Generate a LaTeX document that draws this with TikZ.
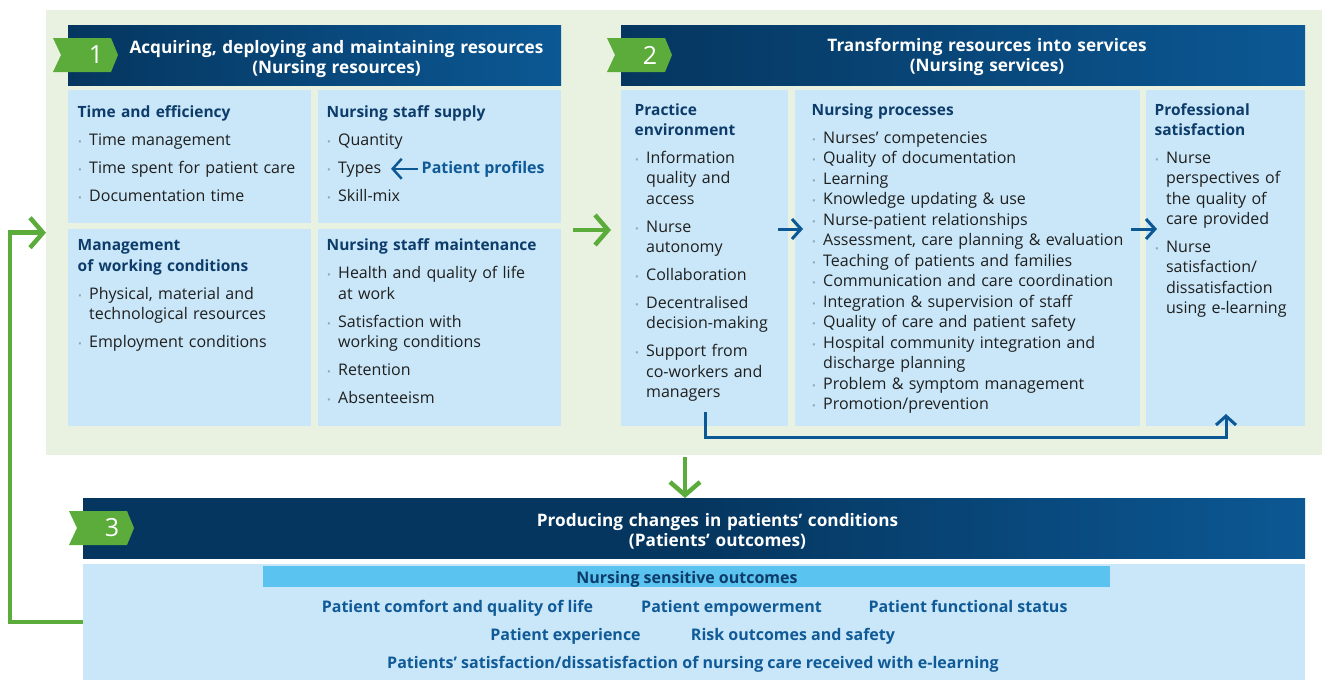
\documentclass[tikz,border=0pt]{standalone}
\usepackage{fontspec}
\setmainfont{Open Sans}
\usetikzlibrary{arrows.meta}

\definecolor{navy}{HTML}{05365F}
\definecolor{seablue}{HTML}{0C5894}
\definecolor{inkblue}{HTML}{0D3C6B}
\definecolor{linkblue}{HTML}{0F5A97}
\definecolor{paleblue}{HTML}{C9E7F8}
\definecolor{skyblue}{HTML}{5BC3EF}
\definecolor{mint}{HTML}{E9F2E1}
\definecolor{leaf}{HTML}{5BAC3A}
\definecolor{dotgray}{HTML}{8FA7BC}
\definecolor{bodyink}{HTML}{1F1F1F}

\newcommand\bi{\makebox[11.5pt][l]{\hspace{0.5pt}\textcolor{dotgray}{\fontsize{10}{10}\selectfont\textbullet}}}
\newcommand\bj{\hspace*{11.5pt}}
\newcommand\tstrut{\rule{0pt}{12.5pt}}
\newcommand\hstrut{\rule{0pt}{13.5pt}}
\newcommand\ttl[1]{{\color{inkblue}\bfseries\fontsize{15.5}{20.3}\selectfont #1}}

\tikzset{
    panel/.style = {fill=paleblue, inner sep=0pt, anchor=north west},
    headbar/.style = {inner sep=0pt, anchor=north west, left color=navy, right color=seablue},
    headtext/.style = {anchor=north, inner sep=0pt, align=center, text=white,
        font=\fontsize{17.2}{19.8}\selectfont\bfseries},
    blk/.style = {anchor=north west, inner sep=0pt, align=left, text=bodyink,
        font=\fontsize{16}{20.3}\selectfont},
    outcome/.style = {anchor=base, inner sep=0pt, text=linkblue,
        font=\fontsize{16}{18}\selectfont\bfseries},
    garrow/.style = {draw=leaf, line width=4.5pt, -{Straight Barb[length=13pt,width=30pt]}},
    barrow/.style = {draw=seablue, line width=3pt, -{Straight Barb[length=9pt,width=20pt]}},
    pics/badge/.style = {
        code = {
        \fill[leaf] (0,0) -- (58,0) -- (65,17) -- (58,34) -- (0,34) -- (8,17) -- cycle;
        \node[text=white, font=\fontsize{25}{25}\selectfont, inner sep=0pt] (-num) at (43,17) {#1};
        }
    }
}

\begin{document}
\begin{tikzpicture}[x=1pt,y=-1pt]
    \useasboundingbox (0,0) rectangle (1322,680);

    \node[fill=mint, inner sep=0pt, anchor=north west, minimum width=1276pt, minimum height=445pt] (bg) at (46,10) {};

    % headers
    \node[headbar, minimum width=493pt, minimum height=60pt] (h1) at (68,25) {};
    \node[headbar, minimum width=684pt, minimum height=60pt] (h2) at (621,25) {};
    \node[headbar, middle color=navy, minimum width=1222pt, minimum height=60pt] (h3) at (83,498) {};

    \node[headtext, text width=480pt] (h1t) at (336.5,39.8) {\hstrut Acquiring, deploying and maintaining resources\\(Nursing resources)};
    \node[headtext, text width=480pt] (h2t) at (987,38.2) {\hstrut Transforming resources into services\\(Nursing services)};
    \node[headtext, text width=600pt] (h3t) at (717.5,512.5) {\hstrut Producing changes in patients’ conditions\\(Patients’ outcomes)};

    \pic (b1) at (53,38) {badge=1};
    \pic (b2) at (607,38) {badge=2};
    \pic (b3) at (69,511) {badge=3};

    % nursing resources
    \node[panel, minimum width=243pt, minimum height=133pt] (te) at (68,90) {};
    \node[panel, minimum width=243pt, minimum height=133pt] (ss) at (318,90) {};
    \node[panel, minimum width=243pt, minimum height=197pt] (wc) at (68,229) {};
    \node[panel, minimum width=243pt, minimum height=197pt] (sm) at (318,229) {};

    \node[blk, text width=230pt] (tet) at (77.5,104.8) {\tstrut\ttl{Time and efficiency}\\[7.7pt]
        \bi Time management\\[7.7pt]
        \bi Time spent for patient care\\[7.7pt]
        \bi Documentation time};
    \node[blk, text width=230pt] (sst) at (326.5,104.8) {\tstrut\ttl{Nursing staff supply}\\[7.7pt]
        \bi Quantity\\[7.7pt]
        \bi Types\\[7.7pt]
        \bi Skill-mix};
    \node[outcome, anchor=base west] (pp) at (421.5,173) {Patient profiles};
    \coordinate (ty) at (391,168);

    \node[blk, text width=230pt] (wct) at (77.5,238.2) {\tstrut\ttl{Management}\\\ttl{of working conditions}\\[7.7pt]
        \bi Physical, material and\\\bj technological resources\\[7.7pt]
        \bi Employment conditions};
    \node[blk, text width=230pt] (smt) at (326.5,238.2) {\tstrut\ttl{Nursing staff maintenance}\\[7.7pt]
        \bi Health and quality of life\\\bj at work\\[7.7pt]
        \bi Satisfaction with\\\bj working conditions\\[7.7pt]
        \bi Retention\\[7.7pt]
        \bi Absenteeism};

    % nursing services
    \node[panel, minimum width=167pt, minimum height=336pt] (pe) at (621,90) {};
    \node[panel, minimum width=345pt, minimum height=336pt] (np) at (795,90) {};
    \node[panel, minimum width=159pt, minimum height=336pt] (ps) at (1146,90) {};

    \node[blk, text width=160pt] (pet) at (634.5,102.5) {\tstrut\ttl{Practice}\\\ttl{environment}\\[7.7pt]
        \bi Information\\\bj quality and\\\bj access\\[7.7pt]
        \bi Nurse\\\bj autonomy\\[7.7pt]
        \bi Collaboration\\[7.7pt]
        \bi Decentralised\\\bj decision-making\\[7.7pt]
        \bi Support from\\\bj co-workers and\\\bj managers};
    \node[blk, text width=330pt, font=\fontsize{16}{20.5}\selectfont] (npt) at (811.5,102.5) {\tstrut\ttl{Nursing processes}\\[7.7pt]
        \bi Nurses’ competencies\\
        \bi Quality of documentation\\
        \bi Learning\\
        \bi Knowledge updating \& use\\
        \bi Nurse-patient relationships\\
        \bi Assessment, care planning \& evaluation\\
        \bi Teaching of patients and families\\
        \bi Communication and care coordination\\
        \bi Integration \& supervision of staff\\
        \bi Quality of care and patient safety\\
        \bi Hospital community integration and\\\bj discharge planning\\
        \bi Problem \& symptom management\\
        \bi Promotion/prevention};
    \node[blk, text width=150pt] (pst) at (1154.4,102.5) {\tstrut\ttl{Professional}\\\ttl{satisfaction}\\[7.7pt]
        \bi Nurse\\\bj perspectives of\\\bj the quality of\\\bj care provided\\[7.7pt]
        \bi Nurse\\\bj satisfaction/\\\bj dissatisfaction\\\bj using e-learning};

    % patients' outcomes
    \node[panel, minimum width=1222pt, minimum height=116pt] (lo) at (83,564) {};
    \node[fill=skyblue, inner sep=0pt, anchor=north west, minimum width=847pt, minimum height=21pt] (nsbar) at (263,566) {};
    \node[outcome, text=inkblue] (nso) at (687,583) {Nursing sensitive outcomes};
    \node[outcome] (o1) at (457.5,612) {Patient comfort and quality of life};
    \node[outcome] (o2) at (731.5,612) {Patient empowerment};
    \node[outcome] (o3) at (968,612) {Patient functional status};
    \node[outcome] (o4) at (565.5,640) {Patient experience};
    \node[outcome] (o5) at (793,640) {Risk outcomes and safety};
    \node[outcome] (o6) at (693,668.5) {Patients’ satisfaction/dissatisfaction of nursing care received with e-learning};

    % arrows
    \coordinate (g1s) at (573,230);
    \coordinate (g1e) at (611,230);
    \coordinate (dn) at (685,457);
    \coordinate (p1s) at (778,229);
    \coordinate (p1e) at (803,229);
    \coordinate (p2s) at (1131,229);
    \coordinate (p2e) at (1157,229);
    \coordinate (brs) at (705,412);
    \coordinate (bre) at (1226,414);

    \draw[garrow] (g1s) -- (g1e);
    \draw[garrow] (dn) -- (dn |- h3.north);
    \draw[garrow] (lo.west) -- ++(-73,0) |- (bg.west);
    %\draw[garrow] (h1.south) -- (te.north);

    \draw[barrow] (p1s) -- (p1e);
    \draw[barrow] (p2s) -- (p2e);
    \draw[barrow] (brs) -- ++(0,25) -| (bre);
    \draw[barrow, line width=2.5pt, shorten <=4pt] (pp.west) -- (pp.west -| ty);

\end{tikzpicture}
\end{document}
